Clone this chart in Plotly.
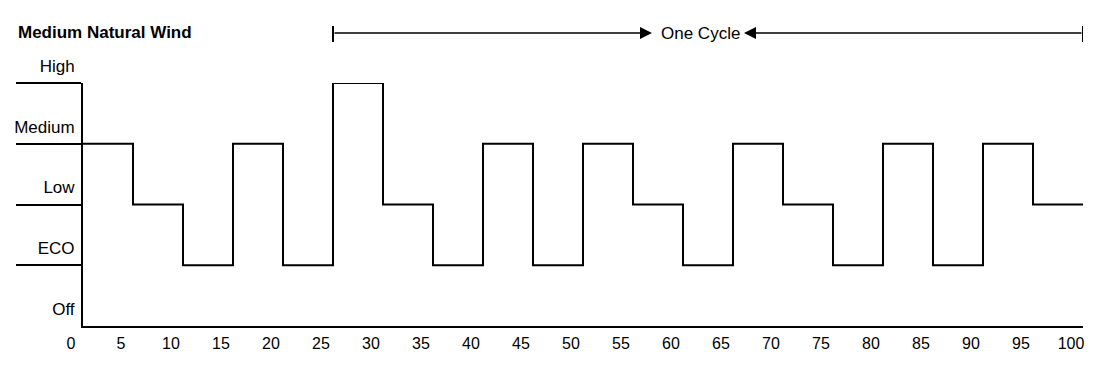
import plotly.graph_objects as go

# ---- data ----
time_points = [0, 5, 10, 15, 20, 25, 30, 35, 40, 45, 50, 55, 60, 65, 70, 75, 80, 85, 90, 95, 100]
# level per segment (0=Off,1=ECO,2=Low,3=Medium,4=High); last value repeats for the end point
levels = [3, 2, 1, 3, 1, 4, 2, 1, 3, 1, 3, 2, 1, 3, 2, 1, 3, 1, 3, 2, 2]
level_names = ["Off", "ECO", "Low", "Medium", "High"]
level_values = [0, 1, 2, 3, 4]
x_ticks = list(range(0, 101, 5))
title_text = "Medium Natural Wind"
cycle_label = "One Cycle"
cycle_start = 25
cycle_end = 100

FONT = "Liberation Sans, Arial, sans-serif"
W, H = 1102, 356  # page body adds 8px margin around the figure

fig = go.Figure()
fig.add_trace(go.Scatter(
    x=time_points, y=levels, mode="lines", line_shape="hv",
    line=dict(color="black", width=2), cliponaxis=False, showlegend=False,
    hoverinfo="skip"))

fig.update_layout(
    width=W, height=H,
    margin=dict(l=75, r=27, t=75, b=38, autoexpand=False),
    paper_bgcolor="white", plot_bgcolor="white",
    font=dict(family=FONT, size=17, color="black"),
    showlegend=False,
    title=dict(text="<b>" + title_text + "</b>", xref="container", x=10 / W,
               xanchor="left", yref="container", y=1 - 24 / H, yanchor="middle",
               font=dict(family=FONT, size=17, color="black")),
    xaxis=dict(range=[0, 100], tickvals=x_ticks, ticktext=[str(v) for v in x_ticks],
               showgrid=False, zeroline=False, showline=True, linecolor="black",
               linewidth=2, ticks="", ticklabelshift=-12, ticklabelstandoff=2,
               automargin=False, tickfont=dict(size=16)),
    yaxis=dict(range=[0, 4], tickvals=level_values, ticktext=level_names,
               showgrid=False, zeroline=False, showline=True, linecolor="black",
               linewidth=2, ticks="", ticklabelshift=-17, ticklabelstandoff=3,
               automargin=False,
               minor=dict(tickvals=level_values[1:], ticks="outside", ticklen=65,
                          tickwidth=2, tickcolor="black", showgrid=False)),
)

# One-cycle bracket above the plot
y_br = (326 - 33) / 243
cap_top = (326 - 26) / 243
cap_bot = (326 - 42) / 243
text_x = 61.7
for xv in (cycle_start, cycle_end):
    fig.add_shape(type="line", xref="x", yref="paper", x0=xv, x1=xv, y0=cap_bot, y1=cap_top,
                  line=dict(color="black", width=2))
fig.add_annotation(x=56.9, y=y_br, xref="x", yref="paper", ax=cycle_start, ay=0,
                   axref="x", ayref="pixel", text="", showarrow=True, arrowhead=2,
                   arrowsize=1.6, arrowwidth=1.5, arrowcolor="black")
fig.add_annotation(x=66.1, y=y_br, xref="x", yref="paper", ax=cycle_end, ay=0,
                   axref="x", ayref="pixel", text="", showarrow=True, arrowhead=2,
                   arrowsize=1.6, arrowwidth=1.5, arrowcolor="black")
fig.add_annotation(x=text_x, y=y_br, xref="x", yref="paper", text=cycle_label,
                   showarrow=False, xanchor="center", yanchor="middle",
                   font=dict(family=FONT, size=17, color="black"))

fig.write_html("out.html")
